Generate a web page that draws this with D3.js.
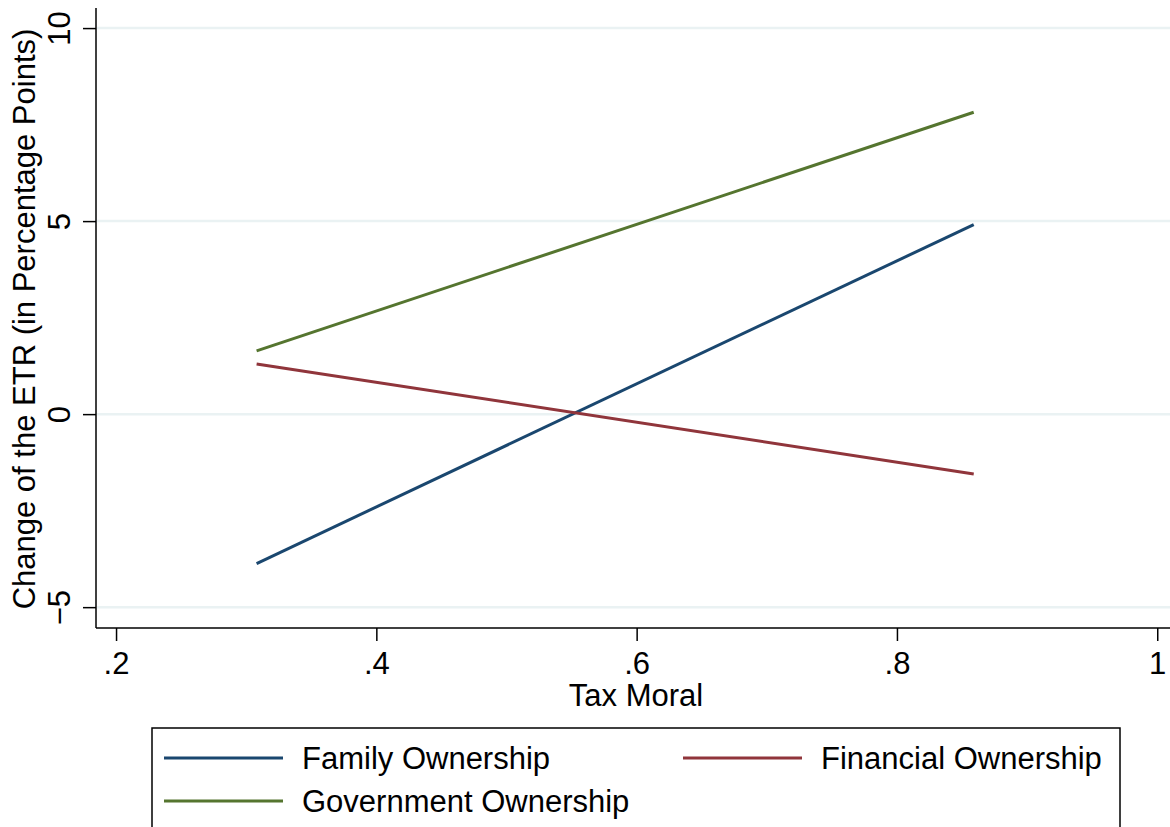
<!DOCTYPE html>
<html lang="en">
<head>
  <meta charset="UTF-8">
  <title>Tax Moral and ETR</title>
  <script src="https://d3js.org/d3.v7.min.js"></script>
  <style>
    body { margin: 0; padding: 0; background: #fff; }
    svg { display: block; font-family: "Liberation Sans", Arial, sans-serif; }
  </style>
</head>
<body>
  <div id="chart"></div>
  <script>
    // data (start and end of each fitted line)
    const xValues = [0.308, 0.859];
    const familyValues = [-3.87, 4.91];
    const financialValues = [1.30, -1.55];
    const governmentValues = [1.64, 7.82];
    const seriesNames = ['Family Ownership', 'Financial Ownership', 'Government Ownership'];
    const xTicks = [0.2, 0.4, 0.6, 0.8, 1];
    const xTickLabels = ['.2', '.4', '.6', '.8', '1'];
    const yTicks = [-5, 0, 5, 10];

    const width = 1170, height = 827;
    const fontSize = 31;
    const colors = {
      'Family Ownership': '#1a476f',
      'Financial Ownership': '#90353b',
      'Government Ownership': '#55752f'
    };

    const series = [
      { name: seriesNames[0], values: familyValues },
      { name: seriesNames[1], values: financialValues },
      { name: seriesNames[2], values: governmentValues }
    ];

    const svg = d3.select('#chart').append('svg')
      .attr('width', width)
      .attr('height', height);

    const x = d3.scaleLinear().domain([0.1846, 1.0098]).range([96, 1170]);
    const y = d3.scaleLinear().domain([-5.54, 10.52]).range([628, 8]);

    // gridlines
    svg.append('g')
      .selectAll('line')
      .data(yTicks)
      .join('line')
      .attr('x1', 97).attr('x2', width)
      .attr('y1', d => y(d)).attr('y2', d => y(d))
      .attr('stroke', '#eaf2f3')
      .attr('stroke-width', 2.5);

    // y axis
    const yAxis = svg.append('g')
      .attr('transform', 'translate(96,0)')
      .call(d3.axisLeft(y).tickValues(yTicks).tickSize(13).tickPadding(8).tickFormat(d3.format('d')));
    yAxis.select('.domain').attr('stroke', '#000').attr('stroke-width', 1.5).attr('d', 'M0,8V628');
    yAxis.selectAll('.tick line').attr('stroke', '#000').attr('stroke-width', 1.5);
    yAxis.selectAll('.tick text')
      .attr('font-size', fontSize)
      .attr('fill', '#000')
      .attr('x', null).attr('dy', null)
      .attr('text-anchor', 'middle')
      .attr('transform', 'translate(-26,0) rotate(-90)');

    // x axis
    const xAxis = svg.append('g')
      .attr('transform', 'translate(0,628)')
      .call(d3.axisBottom(x).tickValues(xTicks).tickSize(13).tickPadding(8)
        .tickFormat((d, i) => xTickLabels[i]));
    xAxis.select('.domain').attr('stroke', '#000').attr('stroke-width', 1.5).attr('d', 'M96,0H1170');
    xAxis.selectAll('.tick line').attr('stroke', '#000').attr('stroke-width', 1.5);
    xAxis.selectAll('.tick text')
      .attr('font-size', fontSize)
      .attr('fill', '#000')
      .attr('dy', null)
      .attr('y', 46);

    // axis titles
    svg.append('text')
      .attr('x', 636).attr('y', 706)
      .attr('text-anchor', 'middle')
      .attr('font-size', fontSize)
      .text('Tax Moral');

    svg.append('text')
      .attr('transform', 'translate(35,319) rotate(-90)')
      .attr('text-anchor', 'middle')
      .attr('font-size', fontSize)
      .text('Change of the ETR (in Percentage Points)');

    // lines
    const line = d3.line()
      .x((d, i) => x(xValues[i]))
      .y(d => y(d));

    svg.append('g')
      .selectAll('path')
      .data(series)
      .join('path')
      .attr('d', d => line(d.values))
      .attr('fill', 'none')
      .attr('stroke', d => colors[d.name])
      .attr('stroke-width', 3);

    // legend
    const legend = svg.append('g');
    legend.append('rect')
      .attr('x', 152).attr('y', 728)
      .attr('width', 968).attr('height', 120)
      .attr('fill', '#fff')
      .attr('stroke', '#000')
      .attr('stroke-width', 1.5);

    const legendPos = [
      { x: 164, y: 758 },
      { x: 683, y: 758 },
      { x: 164, y: 801 }
    ];

    const items = legend.selectAll('g.item')
      .data(series)
      .join('g')
      .attr('class', 'item')
      .attr('transform', (d, i) => `translate(${legendPos[i].x},${legendPos[i].y})`);

    items.append('line')
      .attr('x1', 0).attr('x2', 119)
      .attr('stroke', d => colors[d.name])
      .attr('stroke-width', 3);

    items.append('text')
      .attr('x', 138).attr('y', 11)
      .attr('font-size', fontSize)
      .text(d => d.name);
  </script>
</body>
</html>
